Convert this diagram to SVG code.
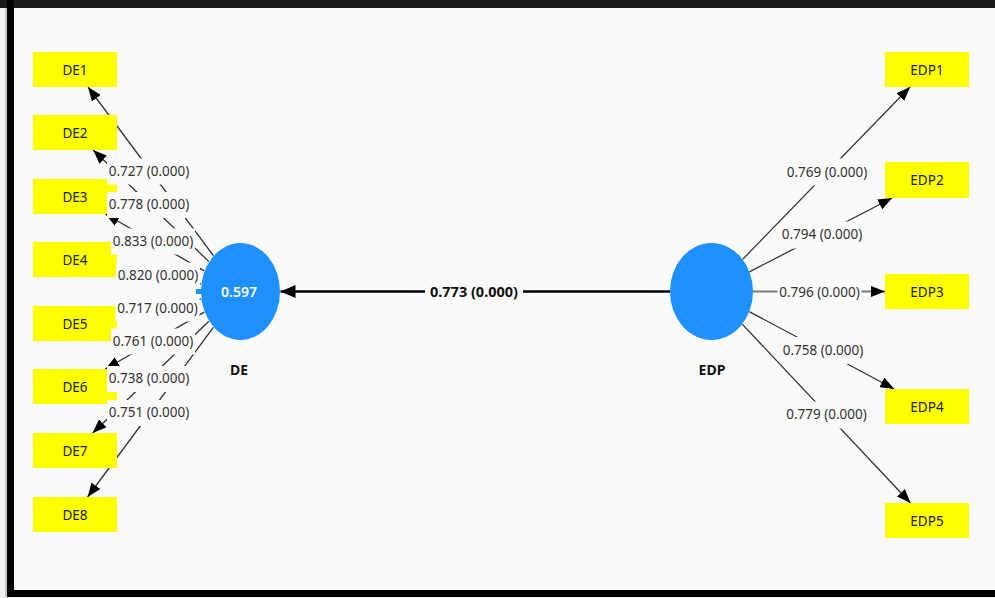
<svg xmlns="http://www.w3.org/2000/svg" width="995" height="598" viewBox="0 0 995 598">
<style>
.ind{fill:#ffff00}
.indt{font-family:"Noto Sans","Liberation Sans",sans-serif;font-size:13.5px;fill:#222;text-anchor:middle}
.lv{fill:#1e90ff}
.lvn{font-family:"Noto Sans","Liberation Sans",sans-serif;font-size:14px;font-weight:bold;fill:#111;text-anchor:middle}
.lvv{font-family:"Noto Sans","Liberation Sans",sans-serif;font-size:14px;font-weight:600;fill:#fff;text-anchor:middle}
.ln{stroke:#333;stroke-width:1.3;fill:none;marker-end:url(#ah)}
.ln2{stroke:#7a7a7a;stroke-width:2;fill:none;marker-end:url(#ah)}
.main{stroke:#000;stroke-width:2.6;fill:none;marker-end:url(#ahm)}
.lb{fill:#fafafa}
.lt{font-family:"Noto Sans","Liberation Sans",sans-serif;font-size:13.5px;fill:#333;text-anchor:middle}
.mt{font-family:"Noto Sans","Liberation Sans",sans-serif;font-size:14.5px;font-weight:bold;fill:#111;text-anchor:middle}
</style>
<defs>
<marker id="ah" markerUnits="userSpaceOnUse" viewBox="0 0 14 11" markerWidth="14" markerHeight="11" refX="14" refY="5.5" orient="auto"><path d="M0,0 L14,5.5 L0,11 z" fill="#000"/></marker>
<marker id="ahm" markerUnits="userSpaceOnUse" viewBox="0 0 15 13" markerWidth="15" markerHeight="13" refX="15" refY="6.5" orient="auto"><path d="M0,0 L15,6.5 L0,13 z" fill="#000"/></marker>
</defs>
<rect x="0" y="0" width="995" height="598" fill="#f0f0f0"/>
<rect x="14" y="8" width="981" height="582" fill="#fafafa"/>
<rect x="0" y="0" width="995" height="8" fill="#1a1a1a"/>
<rect x="7" y="0" width="7" height="597" fill="#000"/>
<rect x="7" y="590" width="988" height="7" fill="#000"/>
<line x1="6" y1="8" x2="6" y2="597" stroke="#9a9a9a" stroke-width="1"/>

<g id="connectors">
<line class="ln" x1="213.4" y1="255.7" x2="88" y2="87"/>
<line class="ln" x1="208.9" y1="261.6" x2="93.2" y2="150"/>
<line class="ln" x1="204.2" y1="270.9" x2="105.4" y2="214"/>
<line class="ln" x1="201" y1="283.9" x2="117" y2="267.6"/>
<line class="ln" x1="201" y1="298.9" x2="117" y2="315"/>
<line class="ln" x1="204.2" y1="312.1" x2="105.4" y2="369"/>
<line class="ln" x1="208.9" y1="321.3" x2="92.7" y2="433"/>
<line class="ln" x1="213.4" y1="327.4" x2="87.6" y2="497"/>
<line class="ln" x1="742.6" y1="259.4" x2="910" y2="87"/>
<line class="ln" x1="749.4" y1="271.9" x2="892.2" y2="198"/>
<line class="ln2" x1="753" y1="291.5" x2="885" y2="291.5"/>
<line class="ln" x1="749.3" y1="311.6" x2="894.2" y2="389"/>
<line class="ln" x1="742.2" y1="324.1" x2="910.5" y2="503"/>
<line class="main" x1="670" y1="291.5" x2="280.5" y2="291.5"/>
</g>

<g id="DE1"><rect class="ind" x="33" y="52" width="84" height="35"/><text class="indt" x="75" y="74.5">DE1</text></g>
<g id="DE2"><rect class="ind" x="33" y="115" width="84" height="35"/><text class="indt" x="75" y="137.5">DE2</text></g>
<g id="DE3"><rect class="ind" x="33" y="179" width="84" height="35"/><text class="indt" x="75" y="201.5">DE3</text></g>
<g id="DE4"><rect class="ind" x="33" y="242" width="84" height="35"/><text class="indt" x="75" y="264.5">DE4</text></g>
<g id="DE5"><rect class="ind" x="33" y="306" width="84" height="35"/><text class="indt" x="75" y="328.5">DE5</text></g>
<g id="DE6"><rect class="ind" x="33" y="369" width="84" height="35"/><text class="indt" x="75" y="391.5">DE6</text></g>
<g id="DE7"><rect class="ind" x="33" y="433" width="84" height="35"/><text class="indt" x="75" y="455.5">DE7</text></g>
<g id="DE8"><rect class="ind" x="33" y="497" width="84" height="35"/><text class="indt" x="75" y="519.5">DE8</text></g>

<g id="EDP1"><rect class="ind" x="885" y="52" width="84" height="35"/><text class="indt" x="927" y="74.5">EDP1</text></g>
<g id="EDP2"><rect class="ind" x="885" y="162" width="84" height="36"/><text class="indt" x="927" y="185">EDP2</text></g>
<g id="EDP3"><rect class="ind" x="885" y="274" width="84" height="35"/><text class="indt" x="927" y="296.5">EDP3</text></g>
<g id="EDP4"><rect class="ind" x="885" y="389" width="84" height="35"/><text class="indt" x="927" y="411.5">EDP4</text></g>
<g id="EDP5"><rect class="ind" x="885" y="503" width="84" height="35"/><text class="indt" x="927" y="525.5">EDP5</text></g>

<g id="DE">
<rect class="lv" x="196" y="289" width="6" height="5"/>
<ellipse class="lv" cx="240.5" cy="291.5" rx="39.5" ry="48.5"/>
<text class="lvv" x="239" y="297">0.597</text>
<text class="lvn" x="239" y="375">DE</text>
</g>
<g id="EDP">
<ellipse class="lv" cx="711.5" cy="291.5" rx="41.5" ry="48.5"/>
<text class="lvn" x="712" y="375">EDP</text>
</g>

<g id="connector-labels">
<rect class="lb" x="107" y="158.5" width="84" height="26"/><text class="lt" x="149" y="175.5">0.727 (0.000)</text>
<rect class="lb" x="107" y="192" width="84" height="26"/><text class="lt" x="149" y="209">0.778 (0.000)</text>
<rect class="lb" x="111" y="228.5" width="84" height="26"/><text class="lt" x="153" y="245.5">0.833 (0.000)</text>
<rect class="lb" x="116" y="262.5" width="84" height="26"/><text class="lt" x="158" y="279.5">0.820 (0.000)</text>
<rect class="lb" x="115.5" y="295.5" width="84" height="26"/><text class="lt" x="157.5" y="312.5">0.717 (0.000)</text>
<rect class="lb" x="111" y="328.5" width="84" height="26"/><text class="lt" x="153" y="345.5">0.761 (0.000)</text>
<rect class="lb" x="107" y="366" width="84" height="26"/><text class="lt" x="149" y="383">0.738 (0.000)</text>
<rect class="lb" x="107" y="400" width="84" height="26"/><text class="lt" x="149" y="417">0.751 (0.000)</text>

<rect class="lb" x="785" y="158.5" width="84" height="27"/><text class="lt" x="827" y="176.5">0.769 (0.000)</text>
<rect class="lb" x="780" y="221.5" width="84" height="27"/><text class="lt" x="822" y="239">0.794 (0.000)</text>
<rect class="lb" x="777.5" y="279" width="84" height="27"/><text class="lt" x="819.5" y="297">0.796 (0.000)</text>
<rect class="lb" x="781" y="337" width="84" height="27"/><text class="lt" x="823" y="354.5">0.758 (0.000)</text>
<rect class="lb" x="784.5" y="401.5" width="84" height="27"/><text class="lt" x="826.5" y="419">0.779 (0.000)</text>

<rect class="lb" x="425" y="282" width="98" height="20"/><text class="mt" x="474" y="297">0.773 (0.000)</text>
</g>
</svg>
